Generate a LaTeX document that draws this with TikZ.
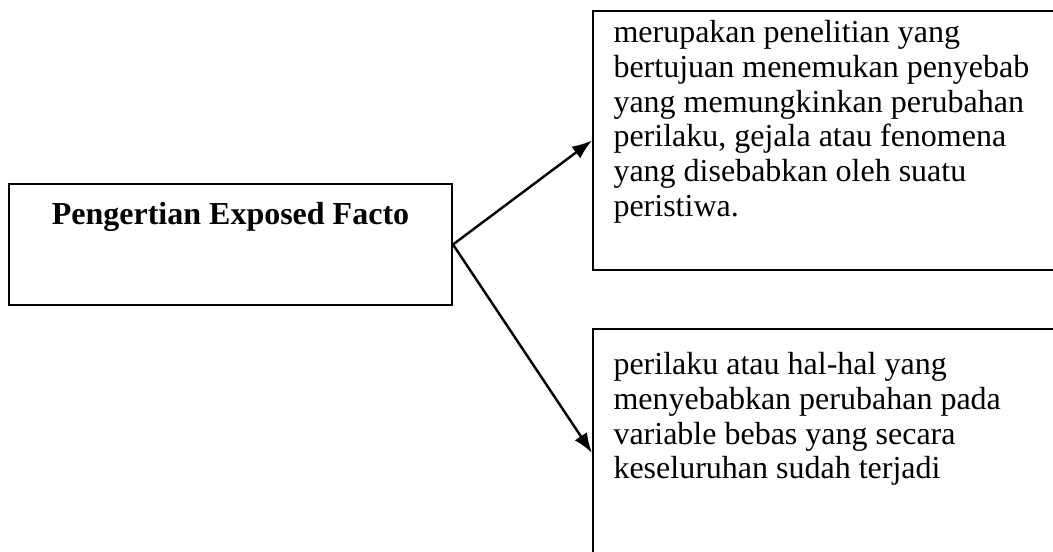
\documentclass[tikz,border=0pt]{standalone}
\usepackage{fontspec}
\setmainfont{Liberation Serif}
\usetikzlibrary{arrows.meta}

\tikzset{every picture/.style={line width=0.75pt}}
\tikzset{
  kotak/.style={draw, line width=1.5pt, inner sep=0pt},
  isi/.style={anchor=north west, inner sep=0pt, align=left, font=\fontsize{24}{26}\selectfont},
  panah/.style={line width=1.8pt, -{Latex[length=15pt,width=11pt]}}
}

\begin{document}
\begin{tikzpicture}[x=0.75pt,y=0.75pt,yscale=-1,xscale=1]
\useasboundingbox (0,0) rectangle (1053,552);
\clip (0,0) rectangle (1053,552);

%Shape: Rectangle [id:pengertian]
\node [kotak, minimum width=443*0.75pt, minimum height=121*0.75pt] (pengertian) at (230.5,244.5) {};
%Shape: Rectangle [id:definisi]
\node [kotak, minimum width=480*0.75pt, minimum height=259*0.75pt, anchor=west] (definisi) at (592,140.5) {};
%Shape: Rectangle [id:penyebab]
\node [kotak, minimum width=480*0.75pt, minimum height=248*0.75pt, anchor=west] (penyebab) at (592,453) {};

% Text Node
\node [anchor=base, inner sep=0pt, font=\fontsize{24}{26}\selectfont\bfseries] (judul) at (230.5,225) {Pengertian Exposed Facto};
% Text Node
\node [isi] (teksdefinisi) at (613,20) {merupakan penelitian yang\\bertujuan menemukan penyebab\\yang memungkinkan perubahan\\perilaku, gejala atau fenomena\\yang disebabkan oleh suatu\\peristiwa.};
% Text Node
\node [isi] (tekspenyebab) at (613,352) {perilaku atau hal-hal yang\\menyebabkan perubahan pada\\variable bebas yang secara\\keseluruhan sudah terjadi};

% Arrows
\draw [panah] (pengertian.east) -- (definisi.west);
\draw [panah] (pengertian.east) -- (penyebab.west);

\end{tikzpicture}
\end{document}
